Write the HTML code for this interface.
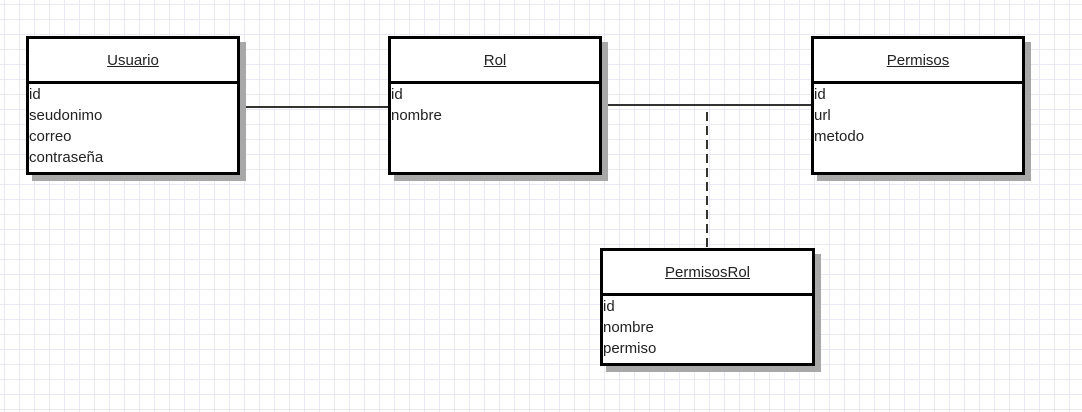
<!DOCTYPE html>
<html><head><style>
body{margin:0;width:1082px;height:412px;overflow:hidden;background:#fff;
background-image:linear-gradient(to right,#e9e9f6 1px,transparent 1px),linear-gradient(to bottom,#e9e9f6 1px,transparent 1px);
background-size:15px 15px;background-position:4px 4px;font-family:"Liberation Sans",sans-serif;position:relative}
.b{position:absolute;border:3px solid #000;background:#fff;box-shadow:6px 6px 0 #a8a8a8;box-sizing:border-box}
.h{height:42px;border-bottom:3px solid #000;text-align:center;line-height:44px;font-size:15px;color:#222;text-decoration:underline}
.r{font-size:15px;line-height:21px;color:#222;padding-left:0}
.l{position:absolute;background:#333}
</style></head><body>
<div class="l" style="left:238px;top:106px;width:152px;height:1.5px"></div>
<div class="l" style="left:598px;top:104px;width:216px;height:1.5px"></div>
<svg style="position:absolute;left:700px;top:110px" width="14" height="140"><line x1="7" y1="2" x2="7" y2="139" stroke="#333" stroke-width="2" stroke-dasharray="9 5"/></svg>
<div class="b" style="left:26px;top:36px;width:214px;height:139px"><div class="h">Usuario</div><div class="r">id<br>seudonimo<br>correo<br>contraseña</div></div>
<div class="b" style="left:388px;top:36px;width:214px;height:139px"><div class="h">Rol</div><div class="r">id<br>nombre</div></div>
<div class="b" style="left:811px;top:36px;width:214px;height:139px"><div class="h">Permisos</div><div class="r">id<br>url<br>metodo</div></div>
<div class="b" style="left:600px;top:248px;width:215px;height:118px"><div class="h">PermisosRol</div><div class="r">id<br>nombre<br>permiso</div></div>
</body></html>
